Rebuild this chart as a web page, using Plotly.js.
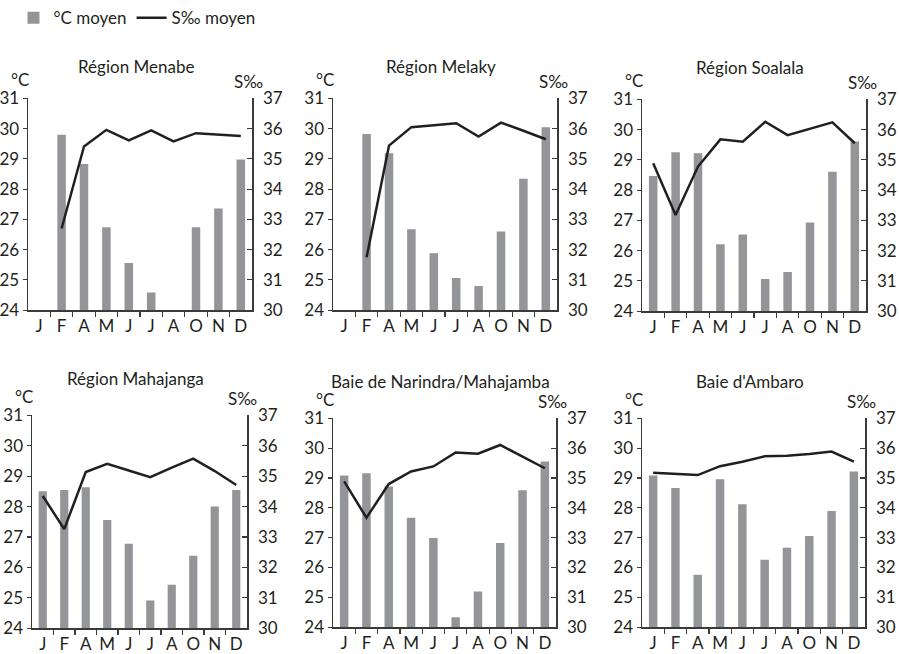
<!DOCTYPE html>
<html>
<head>
<meta charset="utf-8">
<script src="https://cdn.plot.ly/plotly-3.0.1.min.js"></script>
<style>
  html, body { margin: 0; padding: 0; background: #fff; }
  #chart { width: 899px; height: 654px; }
</style>
</head>
<body>
<div id="chart"></div>
<script>
// Month labels along each x axis (10 slots)
const months = ['J', 'F', 'A', 'M', 'J', 'J', 'A', 'O', 'N', 'D'];

const regions = [
  'Région Menabe',
  'Région Melaky',
  'Région Soalala',
  'Région Mahajanga',
  'Baie de Narindra/Mahajamba',
  "Baie d'Ambaro"
];

// Mean temperature (°C) per month slot
const tempMenabe    = [null, 29.80, 28.83, 26.74, 25.56, 24.58, null, 26.74, 27.36, 28.98];
const tempMelaky    = [null, 29.82, 29.19, 26.67, 25.88, 25.06, 24.80, 26.60, 28.34, 30.05];
const tempSoalala   = [28.47, 29.25, 29.22, 26.21, 26.53, 25.06, 25.29, 26.93, 28.61, 29.61];
const tempMahajanga = [28.51, 28.55, 28.64, 27.56, 26.78, 24.91, 25.43, 26.38, 28.00, 28.55];
const tempNarindra  = [29.09, 29.16, 28.72, 27.67, 26.99, 24.33, 25.20, 26.82, 28.59, 29.56];
const tempAmbaro    = [29.09, 28.67, 25.76, 28.96, 28.12, 26.26, 26.66, 27.06, 27.90, 29.22];

// Mean salinity (S‰) per month slot
const salMenabe    = [null, 32.70, 35.41, 35.96, 35.61, 35.94, 35.58, 35.85, 35.80, 35.76];
const salMelaky    = [null, 31.75, 35.44, 36.05, 36.11, 36.18, 35.74, 36.20, 35.93, 35.65];
const salSoalala   = [34.89, 33.18, 34.78, 35.68, 35.60, 36.26, 35.82, 36.02, 36.24, 35.55];
const salMahajanga = [34.35, 33.26, 35.14, 35.41, 35.19, 34.97, 35.28, 35.58, 35.17, 34.71];
const salNarindra  = [34.89, 33.67, 34.80, 35.22, 35.39, 35.86, 35.82, 36.11, 35.72, 35.33];
const salAmbaro    = [35.18, 35.15, 35.10, 35.40, 35.55, 35.73, 35.75, 35.81, 35.89, 35.55];

const temps = [tempMenabe, tempMelaky, tempSoalala, tempMahajanga, tempNarindra, tempAmbaro];
const sals  = [salMenabe, salMelaky, salSoalala, salMahajanga, salNarindra, salAmbaro];

// Panel frames in pixels: [left, right, top, bottom]
const W = 899, H = 654;
const frames = [
  [28, 252, 95, 308],
  [333, 557, 95, 308],
  [642, 866, 96, 309],
  [32, 247, 414, 628],
  [333, 556, 417, 627],
  [642, 865, 417, 627]
];

const ink = '#231f20';
const barGrey = '#939598';
const axisGrey = '#3a3a3a';
const fontFamily = 'Lato, "Open Sans", sans-serif';

const slots = months.map((_, i) => i);
const bounds = months.slice(1).map((_, i) => i + 0.5);

const data = [];
const layout = {
  width: W, height: H,
  margin: {l: 0, r: 0, t: 0, b: 0},
  paper_bgcolor: '#fff',
  plot_bgcolor: 'rgba(0,0,0,0)',
  font: {family: fontFamily, size: 17, color: ink},
  showlegend: true,
  legend: {
    orientation: 'h', x: 0.015, y: 1.006, xanchor: 'left', yanchor: 'top',
    font: {size: 17, color: ink}, itemwidth: 30, bgcolor: 'rgba(0,0,0,0)'
  },
  annotations: []
};

regions.forEach((name, i) => {
  const n = i + 1;
  const xid = n === 1 ? 'x' : 'x' + n;
  const yL = 2 * n - 1, yR = 2 * n;
  const yLid = yL === 1 ? 'y' : 'y' + yL;
  const yRid = 'y' + yR;
  const [l, r, t, b] = frames[i];
  const xd = [l / W, r / W];
  const yd = [1 - b / H, 1 - t / H];

  data.push({
    type: 'bar', x: slots, y: temps[i], xaxis: xid, yaxis: yLid,
    width: 0.38, marker: {color: barGrey},
    name: '°C moyen', showlegend: i === 0, hoverinfo: 'y'
  });
  data.push({
    type: 'scatter', mode: 'lines', x: slots, y: sals[i], xaxis: xid, yaxis: yRid,
    line: {color: ink, width: 2.5},
    name: 'S‰ moyen', showlegend: i === 0, hoverinfo: 'y'
  });

  layout[n === 1 ? 'xaxis' : 'xaxis' + n] = {
    domain: xd, anchor: yLid, range: [-0.5, 9.5], fixedrange: true,
    tickmode: 'array', tickvals: slots, ticktext: months, ticks: '',
    showline: true, linecolor: axisGrey, linewidth: 1.5,
    showgrid: false, zeroline: false,
    tickfont: {size: 17, color: ink},
    minor: {tickmode: 'array', tickvals: bounds, ticks: 'outside', ticklen: 5,
            tickwidth: 1.2, tickcolor: axisGrey, showgrid: false}
  };
  layout[yL === 1 ? 'yaxis' : 'yaxis' + yL] = {
    domain: yd, anchor: xid, range: [24, 31], tick0: 24, dtick: 1, fixedrange: true,
    ticks: 'outside', ticklen: 4, tickwidth: 1.2, tickcolor: axisGrey,
    showline: true, linecolor: axisGrey, linewidth: 1.5,
    showgrid: false, zeroline: false,
    tickfont: {size: 17, color: ink}
  };
  layout['yaxis' + yR] = {
    overlaying: yLid, side: 'right', anchor: xid, range: [30, 37], tick0: 30, dtick: 1,
    fixedrange: true,
    ticks: 'inside', ticklen: 5, tickwidth: 1.2, tickcolor: axisGrey,
    showline: true, linecolor: axisGrey, linewidth: 1.5,
    showgrid: false, zeroline: false, ticklabelstandoff: 6,
    tickfont: {size: 17, color: ink}
  };

  // Panel title and axis unit labels
  layout.annotations.push({
    xref: 'paper', yref: 'paper', x: ((l + r) / 2 - 4) / W, y: 1 - (t - (i < 3 ? 32 : 37)) / H,
    text: name, showarrow: false, xanchor: 'center', yanchor: 'middle',
    font: {size: 17, color: ink}
  });
  layout.annotations.push({
    xref: 'paper', yref: 'paper', x: (l - 8) / W, y: 1 - (t - 19) / H,
    text: '°C', showarrow: false, xanchor: 'center', yanchor: 'middle',
    font: {size: 17, color: ink}
  });
  layout.annotations.push({
    xref: 'paper', yref: 'paper', x: (r - 4) / W, y: 1 - (t - 17) / H,
    text: 'S‰', showarrow: false, xanchor: 'center', yanchor: 'middle',
    font: {size: 17, color: ink}
  });
});

Plotly.newPlot('chart', data, layout, {displayModeBar: false, staticPlot: true});
</script>
</body>
</html>
